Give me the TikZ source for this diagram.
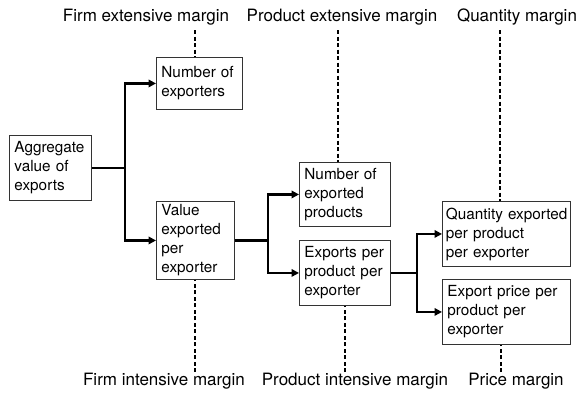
\documentclass[tikz,border=0pt]{standalone}
\usepackage{fontspec}
\setmainfont{TeX Gyre Heros}
\usetikzlibrary{arrows.meta,calc}
\hyphenpenalty=10000
\exhyphenpenalty=10000
\begin{document}
\begin{tikzpicture}[x=1pt,y=-1pt,
  box/.style={draw=black!80, line width=0.9pt, anchor=north west, align=left,
    inner xsep=5pt, inner ysep=0pt, font=\fontsize{15.3}{19}\selectfont},
  conn/.style={line width=2.2pt},
  arr/.style={line width=2.2pt, -{Triangle[length=7.5pt,width=7.5pt]}},
  dsh/.style={line width=1.5pt, dash pattern=on 4pt off 2.5pt},
  lab/.style={inner sep=0pt, font=\fontsize{17}{20}\selectfont}]
\useasboundingbox (0,0) rectangle (579,392);
% boxes
\node[box, minimum width=82pt, minimum height=65pt, text width=72pt] (agg) at (9,135) {Aggregate\\value of\\exports};
\node[box, minimum width=86pt, minimum height=52pt, text width=76pt] (nexp) at (156,57) {Number of\\exporters};
\node[box, minimum width=78pt, minimum height=78pt, text width=68pt] (val) at (156,201) {Value\\exported\\per\\exporter};
\node[box, minimum width=91pt, minimum height=64pt, text width=81pt] (nprod) at (299,162) {Number of\\exported\\products};
\node[box, minimum width=91pt, minimum height=65pt, text width=81pt] (epp) at (299,240) {Exports per\\product per\\exporter};
\node[box, inner xsep=3.5pt, minimum width=128pt, minimum height=65pt, text width=121pt] (qty) at (442,201) {Quantity~exported\\per product\\per exporter};
\node[box, minimum width=128pt, minimum height=65pt, text width=118pt] (price) at (442,279) {Export price per\\product per\\exporter};
% labels
\node[lab] (l1) at (146,17) {Firm extensive margin};
\node[lab] (l2) at (342,17) {Product extensive margin};
\node[lab] (l3) at (517,17) {Quantity margin};
\node[lab] (l4) at (164,381) {Firm intensive margin};
\node[lab] (l5) at (355,381) {Product intensive margin};
\node[lab] (l6) at (516,381) {Price margin};
% junctions
\coordinate (j1) at ($(agg.east)+(33,0)$);
\coordinate (j2) at ($(val.east)+(33,0)$);
\coordinate (j3) at ($(epp.east)+(26,0)$);
\draw[conn] (agg.east) -- (j1);
\draw[arr] (j1) |- (nexp.west);
\draw[arr] (j1) |- (val.west);
\draw[conn] (val.east) -- (j2);
\draw[arr] (j2) |- (nprod.west);
\draw[arr] (j2) |- (epp.west);
\draw[conn] (epp.east) -- (j3);
\draw[arr] (j3) |- (qty.west);
\draw[arr] (j3) |- (price.west);
% dashed margins
\coordinate (t1) at (195,30);
\coordinate (t2) at (338,30);
\coordinate (t3) at (500,30);
\coordinate (b1) at (195,372);
\coordinate (b2) at (345,372);
\coordinate (b3) at (501,372);
\draw[dsh] (t1) -- (t1 |- nexp.north);
\draw[dsh] (t2) -- (t2 |- nprod.north);
\draw[dsh] (t3) -- (t3 |- qty.north);
\draw[dsh] (b1) -- (b1 |- val.south);
\draw[dsh] (b2) -- (b2 |- epp.south);
\draw[dsh] (b3) -- (b3 |- price.south);
\end{tikzpicture}
\end{document}
